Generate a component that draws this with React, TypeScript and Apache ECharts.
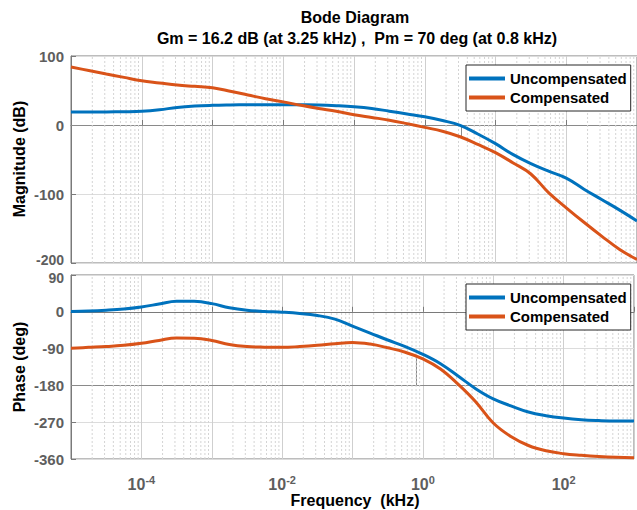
import React, { useEffect, useRef } from 'react';
import * as echarts from 'echarts';

// ---------- data (frequency in kHz, quarter-decade steps) ----------
const freqKHz = [
  1e-5, 1.78e-5, 3.16e-5, 5.62e-5,
  1e-4, 1.78e-4, 3.16e-4, 5.62e-4,
  1e-3, 1.78e-3, 3.16e-3, 5.62e-3,
  0.01, 0.0178, 0.0316, 0.0562,
  0.1, 0.178, 0.316, 0.562,
  1, 1.78, 3.16, 5.62,
  10, 17.8, 31.6, 56.2,
  100, 178, 316, 562,
  1000,
];
const magUncomp = [
  18.8, 18.8, 19, 19.2,
  19.8, 22, 25.5, 27.5,
  28.5, 29, 29.3, 29.5,
  29.5, 29.3, 29, 28,
  26.5, 24, 20, 16,
  12, 6.5, -0.5, -13,
  -27, -43, -56, -67,
  -77, -93, -108, -123,
  -139,
];
const magComp = [
  84, 79, 74, 69,
  64, 61, 58, 56,
  54, 49, 43.5, 38,
  33.5, 28.5, 24, 20,
  15, 11, 7, 2,
  -3.4, -9, -17, -28,
  -40, -55, -71, -98,
  -120, -141, -161, -180,
  -195,
];
const phaseUncomp = [
  1, 2, 4, 7,
  12, 19, 26, 25.5,
  20, 10, 4, 1,
  -1, -4, -9, -18,
  -35, -52, -69, -85,
  -104, -127, -157, -188,
  -213, -230, -245, -254,
  -260, -264, -266, -267,
  -267,
];
const phaseComp = [
  -89, -87, -85, -82,
  -77, -70, -64, -64.5,
  -70, -80, -85, -86.5,
  -87, -85, -82, -78,
  -75, -79, -88, -99,
  -115, -140, -177, -220,
  -272, -305, -327, -340,
  -347, -351, -354, -356,
  -357,
];

const seriesNames = ['Uncompensated', 'Compensated'];
const titleLines = ['Bode Diagram', 'Gm = 16.2 dB (at 3.25 kHz) ,  Pm = 70 deg (at 0.8 kHz)'];
const axisNames = ['Magnitude (dB)', 'Phase (deg)', 'Frequency  (kHz)'];
const magRange = [-200, 100, 100];
const phaseRange = [-360, 90, 90];
const freqRange = [1e-5, 1e3];
const gmMarker = { freq: 3.25, db: 16.2 };
const pmMarker = { freq: 0.8, deg: 70 };
const minorMultipliers = [2, 3, 4, 5, 6, 7, 8, 9];
const decadeExps = [-5, -4, -3, -2, -1, 0, 1, 2];

const BLUE = '#0072BD';
const ORANGE = '#D95319';
const AXIS = '#7a7a7a';
const LABEL = '#5e5e5e';
const FONT = '"Liberation Sans", Arial, sans-serif';

export default function App() {
  const ref = useRef<HTMLDivElement>(null);

  useEffect(() => {
    if (!ref.current) return;
    const chart = echarts.init(ref.current, undefined, { renderer: 'svg' });

    const minorFreqs: number[] = [];
    decadeExps.forEach((e) => minorMultipliers.forEach((m) => minorFreqs.push(m * Math.pow(10, e))));

    const minorGridSeries = (gi: number, r: number[]) => {
      const data: any[] = [];
      minorFreqs.forEach((f) => {
        data.push([f, r[0]]);
        data.push([f, r[1]]);
        data.push([f, '-']);
      });
      return {
        type: 'line',
        name: 'minorGrid' + gi,
        xAxisIndex: gi,
        yAxisIndex: gi,
        data,
        symbol: 'none',
        showSymbol: false,
        connectNulls: false,
        silent: true,
        z: 1,
        lineStyle: { color: '#d4d4d4', width: 1, type: [2, 2] },
      };
    };

    const xAxisBase = (gi: number, showLabel: boolean) => ({
      type: 'log',
      logBase: 10,
      gridIndex: gi,
      min: freqRange[0],
      max: freqRange[1],
      splitNumber: 8,
      axisLine: { show: true, lineStyle: { color: AXIS, width: 1 } },
      axisTick: { show: true, inside: true, length: 5, lineStyle: { color: AXIS } },
      splitLine: { show: true, lineStyle: { color: '#cfcfcf', width: 1 } },
      axisLabel: {
        show: showLabel,
        margin: 15,
        color: LABEL,
        fontFamily: FONT,
        formatter: (v: number) => {
          const e = Math.round(Math.log10(v));
          if (e % 2 !== 0 || e <= -5 || e >= 3) return '';
          return '{b|10}{s|' + e + '}';
        },
        rich: {
          b: { fontSize: 16, fontWeight: 'bold', color: LABEL, fontFamily: FONT },
          s: { fontSize: 11, fontWeight: 'bold', color: LABEL, fontFamily: FONT, padding: [0, 0, 10, 0] },
        },
      },
    });

    const yLabelStyle = { color: LABEL, fontSize: 15, fontWeight: 'bold', fontFamily: FONT };

    const yAxisBase = (gi: number, r: number[], edge: 'min' | 'max') => ({
      type: 'value',
      gridIndex: gi,
      min: r[0],
      max: r[1],
      interval: r[2],
      axisLine: { show: true, lineStyle: { color: AXIS, width: 1 } },
      axisTick: { show: true, inside: true, length: 5, lineStyle: { color: AXIS } },
      splitLine: { show: true, lineStyle: { color: '#dcdcdc', width: 1 } },
      axisLabel: {
        ...yLabelStyle,
        margin: 7,
        formatter: (v: number) => {
          if (edge === 'min' && v === r[0]) return '{lo|' + v + '}';
          if (edge === 'max' && v === r[1]) return '{hi|' + v + '}';
          return '{n|' + v + '}';
        },
        rich: {
          n: { ...yLabelStyle },
          lo: { ...yLabelStyle, fontSize: 14, lineHeight: 14, padding: [0, 0, 6, 0] },
          hi: { ...yLabelStyle, fontSize: 14, lineHeight: 14, padding: [6, 0, 0, 0] },
        },
      },
    });

    const mk = (extra: any[]) => ({
      silent: true,
      symbol: ['none', 'none'],
      label: { show: false },
      z: 1,
      animation: false,
      data: extra,
    });

    const line = (name: string, color: string, ys: number[], gi: number, markLine?: any) => ({
      type: 'line',
      name,
      xAxisIndex: gi,
      yAxisIndex: gi,
      data: freqKHz.map((f, i) => [f, ys[i]]),
      symbol: 'none',
      showSymbol: false,
      smooth: 0.4,
      lineStyle: { color, width: 3 },
      itemStyle: { color },
      z: 3,
      ...(markLine ? { markLine } : {}),
    });

    const legendBase = (top: number) => ({
      orient: 'vertical',
      left: 466,
      top,
      padding: [5, 4, 5, 3],
      itemGap: 2,
      itemWidth: 36,
      itemHeight: 4,
      icon: 'rect',
      backgroundColor: '#ffffff',
      borderColor: '#262626',
      borderWidth: 1,
      borderRadius: 0,
      data: seriesNames,
      textStyle: { fontSize: 15, fontWeight: 'bold', color: '#000', fontFamily: FONT, lineHeight: 17 },
    });

    const darkLine = { color: '#8a8a8a', width: 1, type: 'solid' };

    chart.setOption({
      animation: false,
      backgroundColor: '#ffffff',
      grid: [
        { left: 71, right: -2, top: 56, height: 207, show: true, borderColor: AXIS, borderWidth: 1, backgroundColor: 'transparent' },
        { left: 71, right: -2, top: 275, height: 184, show: true, borderColor: AXIS, borderWidth: 1, backgroundColor: 'transparent' },
      ],
      xAxis: [xAxisBase(0, false), xAxisBase(1, true)],
      yAxis: [yAxisBase(0, magRange, 'min'), yAxisBase(1, phaseRange, 'max')],
      legend: [legendBase(65), legendBase(284)],
      series: [
        minorGridSeries(0, magRange),
        minorGridSeries(1, phaseRange),
        line(seriesNames[0], BLUE, magUncomp, 0, mk([
          { yAxis: 0, lineStyle: darkLine },
          [{ coord: [gmMarker.freq, 0], lineStyle: darkLine }, { coord: [gmMarker.freq, -gmMarker.db] }],
        ])),
        line(seriesNames[1], ORANGE, magComp, 0),
        line(seriesNames[0], BLUE, phaseUncomp, 1, mk([
          { yAxis: -180, lineStyle: darkLine },
          [{ coord: [pmMarker.freq, -180], lineStyle: darkLine }, { coord: [pmMarker.freq, -180 + pmMarker.deg] }],
        ])),
        line(seriesNames[1], ORANGE, phaseComp, 1),
      ],
      graphic: [
        { type: 'text', x: 355, y: 17, style: { text: titleLines[0], fontSize: 16, fontWeight: 'bold', fontFamily: FONT, fill: '#000', align: 'center', verticalAlign: 'middle', textAlign: 'center', textVerticalAlign: 'middle' } },
        { type: 'text', x: 357, y: 38, style: { text: titleLines[1], fontSize: 16, fontWeight: 'bold', fontFamily: FONT, fill: '#000', align: 'center', verticalAlign: 'middle', textAlign: 'center', textVerticalAlign: 'middle' } },
        { type: 'text', x: 19, y: 159, rotation: Math.PI / 2, style: { text: axisNames[0], fontSize: 16, fontWeight: 'bold', fontFamily: FONT, fill: '#000', align: 'center', verticalAlign: 'middle', textAlign: 'center', textVerticalAlign: 'middle' } },
        { type: 'text', x: 19, y: 367, rotation: Math.PI / 2, style: { text: axisNames[1], fontSize: 16, fontWeight: 'bold', fontFamily: FONT, fill: '#000', align: 'center', verticalAlign: 'middle', textAlign: 'center', textVerticalAlign: 'middle' } },
        { type: 'text', x: 355, y: 500, style: { text: axisNames[2], fontSize: 16, fontWeight: 'bold', fontFamily: FONT, fill: '#000', align: 'center', verticalAlign: 'middle', textAlign: 'center', textVerticalAlign: 'middle' } },
      ],
    });

    return () => chart.dispose();
  }, []);

  return <div ref={ref} style={{ position: 'fixed', left: 0, top: 0, width: 637, height: 510 }} />;
}
